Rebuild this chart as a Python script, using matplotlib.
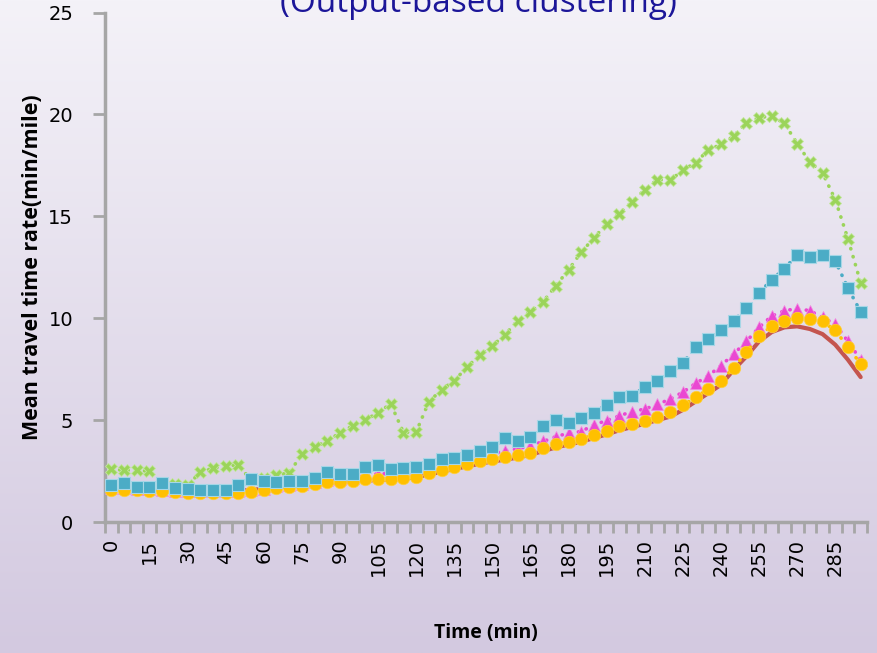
import numpy as np
import matplotlib.pyplot as plt
from matplotlib.ticker import FixedLocator, NullFormatter

# time categories (min)
minutes = list(range(0, 300, 5))
tick_labels = [str(m) if m % 15 == 0 and m <= 285 else '' for m in minutes]

green = [2.59, 2.54, 2.54, 2.49, 1.92, 1.85, 1.80, 2.44, 2.64, 2.75,
         2.80, 2.05, 2.15, 2.31, 2.40, 3.33, 3.67, 3.98, 4.37, 4.72,
         5.01, 5.36, 5.80, 4.39, 4.42, 5.90, 6.49, 6.93, 7.60, 8.19,
         8.65, 9.19, 9.88, 10.32, 10.81, 11.60, 12.37, 13.24, 13.94, 14.63,
         15.13, 15.71, 16.30, 16.80, 16.77, 17.26, 17.63, 18.25, 18.53, 18.93,
         19.59, 19.84, 19.92, 19.56, 18.57, 17.66, 17.13, 15.82, 13.89, 11.74]

blue = [1.82, 1.90, 1.74, 1.71, 1.90, 1.65, 1.61, 1.57, 1.57, 1.57,
        1.82, 2.10, 2.03, 1.95, 2.01, 2.02, 2.15, 2.44, 2.34, 2.36,
        2.70, 2.81, 2.62, 2.66, 2.70, 2.84, 3.07, 3.15, 3.29, 3.46,
        3.68, 4.10, 3.98, 4.16, 4.70, 5.01, 4.88, 5.08, 5.37, 5.76,
        6.11, 6.19, 6.62, 6.94, 7.42, 7.80, 8.57, 8.99, 9.40, 9.88,
        10.48, 11.24, 11.89, 12.43, 13.12, 13.01, 13.09, 12.81, 11.48, 10.32]

magenta = [1.65, 1.66, 1.63, 1.60, 1.58, 1.53, 1.52, 1.52, 1.51, 1.52,
           1.52, 1.57, 1.64, 1.76, 1.82, 1.88, 1.95, 2.06, 2.10, 2.16,
           2.30, 2.36, 2.38, 2.48, 2.58, 2.72, 2.87, 3.03, 3.16, 3.31,
           3.34, 3.50, 3.59, 3.75, 3.95, 4.19, 4.36, 4.44, 4.77, 4.98,
           5.21, 5.42, 5.54, 5.77, 6.03, 6.37, 6.80, 7.17, 7.67, 8.24,
           8.86, 9.55, 10.11, 10.37, 10.47, 10.37, 10.04, 9.71, 8.86, 7.96]

yellow = [1.57, 1.58, 1.55, 1.52, 1.50, 1.45, 1.44, 1.44, 1.43, 1.44,
          1.44, 1.49, 1.57, 1.69, 1.74, 1.79, 1.85, 1.96, 1.98, 2.03,
          2.10, 2.10, 2.12, 2.15, 2.23, 2.39, 2.56, 2.72, 2.85, 2.98,
          3.08, 3.18, 3.28, 3.41, 3.62, 3.82, 3.92, 4.06, 4.28, 4.47,
          4.72, 4.82, 4.98, 5.13, 5.40, 5.72, 6.11, 6.52, 6.93, 7.55,
          8.34, 9.11, 9.63, 9.88, 10.01, 9.96, 9.84, 9.40, 8.58, 7.76]

red = [1.65, 1.65, 1.62, 1.60, 1.57, 1.53, 1.50, 1.50, 1.50, 1.52,
       1.53, 1.57, 1.63, 1.70, 1.76, 1.80, 1.85, 1.92, 1.96, 2.00,
       2.03, 2.06, 2.08, 2.12, 2.20, 2.33, 2.47, 2.60, 2.73, 2.86,
       2.97, 3.06, 3.16, 3.30, 3.48, 3.66, 3.80, 3.94, 4.12, 4.30,
       4.50, 4.66, 4.82, 5.00, 5.17, 5.50, 5.91, 6.32, 6.73, 7.47,
       8.12, 8.86, 9.32, 9.55, 9.60, 9.47, 9.22, 8.70, 7.96, 7.11]

fig = plt.figure(figsize=(8.77, 6.53), dpi=100)

# gradient background
bg = fig.add_axes([0, 0, 1, 1], zorder=-10)
top = np.array([244, 242, 248]) / 255
bottom = np.array([211, 201, 224]) / 255
t = np.linspace(0, 1, 256)[:, None]
grad = top * (1 - t[..., None]) + bottom * t[..., None]
bg.imshow(np.repeat(grad, 2, axis=1), aspect='auto', extent=[0, 1, 0, 1])
bg.axis('off')

ax = fig.add_axes([105 / 877, 1 - 522 / 653, 762 / 877, 509.5 / 653])
ax.patch.set_alpha(0)
x = np.arange(len(minutes))
dots = (0, (0.1, 2.2))

ax.plot(x, red, color='#c4554f', lw=3, zorder=2, solid_capstyle='round')
ax.plot(x, green, color='#9bd45a', lw=2.6, ls=dots, dash_capstyle='round',
        marker='X', ms=8, mec='#c4e6a0', mew=0.6, zorder=3)
ax.plot(x, magenta, color='#ea48d2', lw=2.6, ls=dots, dash_capstyle='round',
        marker='^', ms=9, mec='#f08ce0', mew=0.5, zorder=4)
ax.plot(x, yellow, color='#ffc000', lw=2.6, ls=dots, dash_capstyle='round',
        marker='o', ms=9, mec='#ffd040', mew=0.5, zorder=5)
ax.plot(x, blue, color='#4bacc6', lw=2.6, ls=dots, dash_capstyle='round',
        marker='s', ms=8, mec='#a6d6e6', mew=0.8, zorder=6)

ax.set_xlim(-0.5, len(minutes) - 0.5)
ax.set_ylim(0, 25)
ax.set_yticks(range(0, 26, 5))

ax.set_xticks(x)
ax.set_xticklabels(tick_labels, rotation=90, fontsize=14)
ax.tick_params(axis='x', length=0, pad=12)
ax.xaxis.set_minor_locator(FixedLocator(np.arange(-0.5, len(minutes), 1)))
ax.xaxis.set_minor_formatter(NullFormatter())
ax.tick_params(axis='x', which='minor', length=8, width=2, color='#a6a6a6')
ax.tick_params(axis='y', length=9, width=2, color='#a6a6a6', labelsize=14, pad=14)

for s in ['top', 'right']:
    ax.spines[s].set_visible(False)
for s in ['left', 'bottom']:
    ax.spines[s].set_color('#a6a6a6')
    ax.spines[s].set_linewidth(2.5)

ax.set_ylabel('Mean travel time rate(min/mile)', fontsize=15.5, fontweight='bold',
              family='Open Sans', labelpad=4)
ax.set_xlabel('Time (min)', fontsize=14, fontweight='bold', family='Open Sans',
              labelpad=34)

fig.text(0.546, 1 - 12.5 / 653, '(Output-based clustering)', ha='center', va='baseline',
         fontsize=24, color='#1c1699', family='Open Sans')

fig.savefig('out.png', dpi=100)
